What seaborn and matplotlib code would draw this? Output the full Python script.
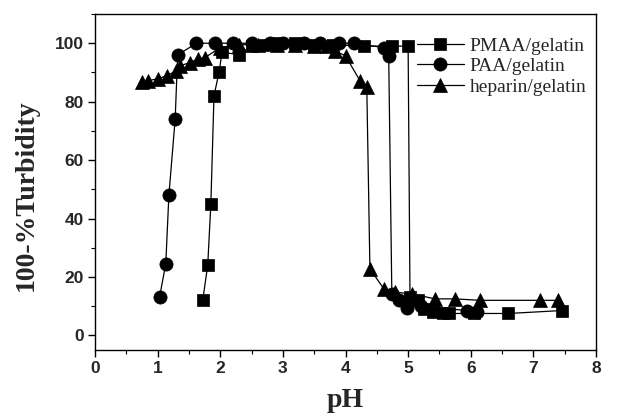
import matplotlib
matplotlib.use("Agg")
import matplotlib.pyplot as plt
import seaborn as sns
import pandas as pd
from matplotlib.ticker import MultipleLocator

# ---- data ----
pmaa_ph = [1.72, 1.80, 1.85, 1.90, 1.98, 2.03, 2.30, 2.50, 2.70, 2.90, 3.20, 3.50, 3.80, 4.30, 4.75, 5.00,
           5.03, 5.15, 5.25, 5.40, 5.55, 5.65, 6.05, 6.60, 7.45]
pmaa_val = [12, 24, 45, 82, 90, 97, 96, 99, 99.5, 100, 100, 99.5, 99.5, 99, 99, 99,
            13, 12, 9, 8, 7.5, 7.5, 7.5, 7.5, 8.5]

paa_ph = [1.03, 1.13, 1.18, 1.28, 1.32, 1.62, 1.92, 2.20, 2.50, 2.80, 3.00, 3.33, 3.60, 3.89, 4.13, 4.61, 4.69,
          4.74, 4.85, 4.98, 5.20, 5.94, 6.10]
paa_val = [13, 24.5, 48, 74, 96, 100, 100, 100, 100, 100, 100, 100, 100, 100, 100, 98.5, 95.5,
           14, 12, 9.5, 10, 8.5, 8]

hep_ph = [0.75, 0.85, 1.00, 1.15, 1.30, 1.36, 1.52, 1.65, 1.75, 2.00, 2.30, 2.60, 2.90, 3.20, 3.50, 3.70,
          3.83, 4.00, 4.23, 4.34, 4.39, 4.61, 4.79, 5.06, 5.43, 5.75, 6.15, 7.11, 7.40]
hep_val = [86.6, 87.2, 87.8, 88.9, 90.6, 92.3, 93.4, 94.7, 95, 98.5, 99.5, 99.5, 99.5, 99.5, 99, 99,
           97.4, 95.7, 87.2, 84.9, 22.8, 16, 14.8, 14.2, 12.5, 12.5, 12, 12, 12]

series_names = ["PMAA/gelatin", "PAA/gelatin", "heparin/gelatin"]
x_ticks = [0, 1, 2, 3, 4, 5, 6, 7, 8]
y_ticks = [0, 20, 40, 60, 80, 100]

sns.set_theme(style="ticks")
plt.rcParams["font.family"] = ["Liberation Sans", "DejaVu Sans"]

fig = plt.figure(figsize=(6.18, 4.13), dpi=100)
ax = fig.add_axes([95 / 618, 1 - 350 / 413, (596 - 95) / 618, (350 - 14) / 413])

specs = [("s", 8.5), ("o", 9.5), ("^", 9.5)]
for name, xs, ys, (mk, ms) in zip(series_names, [pmaa_ph, paa_ph, hep_ph],
                                  [pmaa_val, paa_val, hep_val], specs):
    d = pd.DataFrame({"pH": xs, "val": ys})
    sns.lineplot(data=d, x="pH", y="val", sort=False, color="black", marker=mk,
                 markersize=ms, markeredgecolor="black", markeredgewidth=0.5,
                 linewidth=0.9, ax=ax, label=name)

ax.set_xlim(0, 8)
ax.set_ylim(-5, 110)
ax.set_xticks(x_ticks)
ax.set_yticks(y_ticks)
ax.xaxis.set_minor_locator(MultipleLocator(0.5))
ax.yaxis.set_minor_locator(MultipleLocator(10))
ax.set_xticklabels([str(t) for t in x_ticks], fontweight="bold", fontsize=12.5)
ax.set_yticklabels([str(t) for t in y_ticks], fontweight="bold", fontsize=12.5)
ax.tick_params(which="major", direction="out", length=5, width=1, color="black", pad=3)
ax.tick_params(which="minor", direction="out", length=3, width=0.8, color="black")
for s in ax.spines.values():
    s.set_visible(True)
    s.set_color("black")
    s.set_linewidth(1.0)

ax.set_xlabel("pH", fontfamily="Liberation Serif", fontweight="bold", fontsize=20)
ax.set_ylabel("100-%Turbidity", fontfamily="Liberation Serif", fontweight="bold", fontsize=20)
ax.xaxis.set_label_coords(0.5, -0.112)
ax.yaxis.set_label_coords(-0.112, 0.46)

leg = ax.legend(loc="upper right", bbox_to_anchor=(1.0, 0.96), frameon=False,
                prop={"family": "Liberation Serif", "size": 14},
                handlelength=2.4, handletextpad=0.3, labelspacing=0.15, borderaxespad=0.1)

fig.savefig("out.png", dpi=100)
